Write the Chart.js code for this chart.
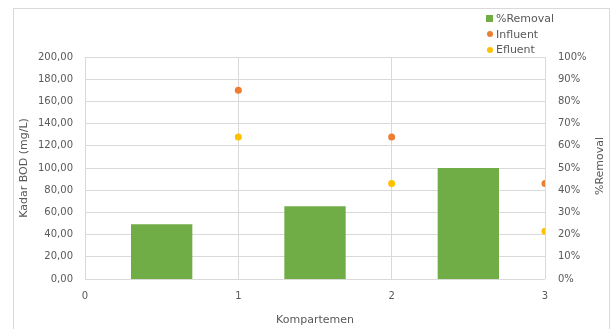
<!DOCTYPE html>
<html>
<head>
<meta charset="utf-8">
<script src="https://cdn.jsdelivr.net/npm/chart.js@4/dist/chart.umd.min.js"></script>
<style>
  html, body { margin: 0; padding: 0; background: #fff; }
  #wrap { position: relative; width: 613px; height: 329px; overflow: hidden; }
  #frame { position: absolute; left: 13px; top: 8px; width: 597px; height: 340px; border: 1px solid #d9d9d9; box-sizing: border-box; }
  #chart { position: absolute; left: 0; top: 0; }
  #legend { position: absolute; left: 486px; top: 11px; font: 11px "DejaVu Sans", sans-serif; color: #595959; line-height: 15.5px; }
  #legend .item { display: flex; align-items: center; white-space: nowrap; }
  #legend .mark { display: inline-block; width: 7px; height: 7px; margin-right: 3px; }
  #legend .dot { border-radius: 50%; width: 6px; height: 6px; margin-left: 1px; }
</style>
</head>
<body>
<div id="wrap">
  <div id="frame"></div>
  <canvas id="chart" width="613" height="329"></canvas>
  <div id="legend"></div>
</div>
<script>
// Kompartemen positions of the samples and of the removal bars
const kompartemen = [1, 2, 3];
const barPositions = [0.5, 1.5, 2.5];

// BOD concentrations (mg/L)
const influent = [170, 128, 86];
const efluent = [128, 86, 43];

// Removal efficiency (%)
const removal = [24.7, 32.8, 50.0];

// Axis ticks
const xTicks = [0, 1, 2, 3];
const leftTicks = [0, 20, 40, 60, 80, 100, 120, 140, 160, 180, 200];
const rightTicks = [0, 10, 20, 30, 40, 50, 60, 70, 80, 90, 100];

const seriesNames = ['%Removal', 'Influent', 'Efluent'];
const colors = { removal: '#70AD47', influent: '#ED7D31', efluent: '#FFC000' };

const textColor = '#595959';
const gridColor = '#d9d9d9';
const tickFont = { family: 'DejaVu Sans', size: 10 };
const titleFont = { family: 'DejaVu Sans', size: 11 };

const toPoints = (xs, ys) => xs.map((x, i) => ({ x: x, y: ys[i] }));

// Secondary axis title, rotated to read bottom-to-top
const rightTitle = {
  id: 'rightTitle',
  afterDraw(chart) {
    const { ctx, chartArea } = chart;
    ctx.save();
    ctx.translate(600, (chartArea.top + chartArea.bottom) / 2 - 2);
    ctx.rotate(-Math.PI / 2);
    ctx.font = '11px "DejaVu Sans"';
    ctx.fillStyle = textColor;
    ctx.textAlign = 'center';
    ctx.textBaseline = 'middle';
    ctx.fillText('%Removal', 0, 0);
    ctx.restore();
  }
};

const chart = new Chart(document.getElementById('chart'), {
  type: 'bar',
  data: {
    datasets: [
      {
        label: seriesNames[0],
        type: 'bar',
        data: toPoints(barPositions, removal),
        backgroundColor: colors.removal,
        borderWidth: 0,
        barPercentage: 0.5,
        categoryPercentage: 0.8,
        yAxisID: 'y1',
        order: 3
      },
      {
        label: seriesNames[1],
        type: 'line',
        data: toPoints(kompartemen, influent),
        showLine: false,
        pointRadius: 3.5,
        pointBackgroundColor: colors.influent,
        pointBorderWidth: 0,
        borderColor: colors.influent,
        backgroundColor: colors.influent,
        yAxisID: 'y',
        order: 1
      },
      {
        label: seriesNames[2],
        type: 'line',
        data: toPoints(kompartemen, efluent),
        showLine: false,
        pointRadius: 3.5,
        pointBackgroundColor: colors.efluent,
        pointBorderWidth: 0,
        borderColor: colors.efluent,
        backgroundColor: colors.efluent,
        yAxisID: 'y',
        order: 2
      }
    ]
  },
  options: {
    responsive: false,
    animation: false,
    layout: { padding: { left: 14, top: 57, right: 0, bottom: 0 } },
    plugins: {
      legend: { display: false },
      tooltip: { enabled: false }
    },
    scales: {
      x: {
        type: 'linear',
        min: 0,
        max: 3,
        offset: false,
        afterBuildTicks: (s) => { s.ticks = xTicks.map(v => ({ value: v })); },
        afterFit: (s) => { s.height = 50; },
        grid: { color: gridColor, drawTicks: false, offset: false },
        border: { display: false },
        ticks: { color: textColor, font: tickFont, padding: 11, maxRotation: 0 },
        title: { display: true, text: 'Kompartemen', color: textColor, font: titleFont, padding: { top: 0, bottom: 2 } }
      },
      y: {
        position: 'left',
        min: 0,
        max: 200,
        afterBuildTicks: (s) => { s.ticks = leftTicks.map(v => ({ value: v })); },
        afterFit: (s) => { s.width = 71; },
        grid: { color: gridColor, drawTicks: false },
        border: { display: false },
        ticks: {
          color: textColor, font: tickFont, padding: 12,
          callback: (v) => v.toFixed(2).replace('.', ',')
        },
        title: { display: true, text: 'Kadar BOD (mg/L)', color: textColor, font: titleFont, padding: { top: 4, bottom: 0 } }
      },
      y1: {
        position: 'right',
        min: 0,
        max: 100,
        afterBuildTicks: (s) => { s.ticks = rightTicks.map(v => ({ value: v })); },
        afterFit: (s) => { s.width = 68; },
        grid: { display: false, drawTicks: false },
        border: { display: false },
        ticks: { color: textColor, font: tickFont, padding: 13, callback: (v) => v + '%' }
      }
    }
  },
  plugins: [rightTitle]
});

// Legend listing the three series
const legend = document.getElementById('legend');
chart.data.datasets.forEach((ds) => {
  const item = document.createElement('div');
  item.className = 'item';
  const mark = document.createElement('span');
  mark.className = ds.type === 'bar' ? 'mark' : 'mark dot';
  mark.style.background = ds.type === 'bar' ? ds.backgroundColor : ds.pointBackgroundColor;
  item.appendChild(mark);
  item.appendChild(document.createTextNode(ds.label));
  legend.appendChild(item);
});
</script>
</body>
</html>
